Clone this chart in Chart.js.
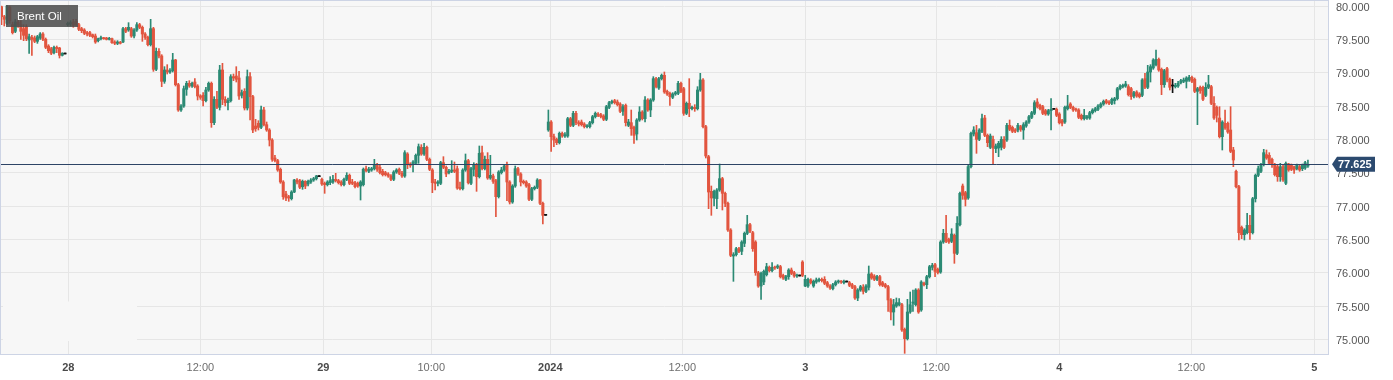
<!DOCTYPE html>
<html><head><meta charset="utf-8">
<script src="https://cdn.jsdelivr.net/npm/chart.js@4.4.1/dist/chart.umd.min.js"></script>
<style>html,body{margin:0;padding:0;background:#fff;}#wrap{width:1393px;height:380px;position:relative;}</style>
</head><body><div id="wrap"><canvas id="c" width="1393" height="380"></canvas></div>
<script>
// 15-minute candles, [open, high, low, close], one array per trading session
const dec27 = [
[79.99,80.00,79.72,79.84],[79.84,79.86,79.70,79.80],[79.74,80.01,79.72,80.00],[79.98,80.00,79.74,79.78],
[79.72,79.76,79.58,79.60],[79.62,79.80,79.60,79.76],[79.76,79.82,79.68,79.72],[79.72,79.78,79.50,79.62],
[79.66,79.72,79.48,79.56],[79.69,79.72,79.48,79.51],[79.49,79.58,79.29,79.54],[79.53,79.56,79.26,79.50],
[79.52,79.55,79.45,79.47],[79.47,79.56,79.44,79.54],[79.52,79.60,79.50,79.58],[79.58,79.60,79.48,79.50],
[79.50,79.52,79.36,79.38],[79.40,79.42,79.30,79.33],[79.36,79.38,79.27,79.29],[79.30,79.40,79.28,79.38],
[79.38,79.40,79.30,79.36],[79.37,79.38,79.22,79.26],[79.26,79.30,79.25,79.29],[79.28,79.28,79.28,79.28]];
const dec28 = [
[79.72,79.76,79.70,79.74],[79.73,79.78,79.70,79.75],[79.76,79.80,79.68,79.71],[79.77,79.80,79.70,79.72],
[79.72,79.74,79.63,79.65],[79.66,79.68,79.60,79.63],[79.64,79.66,79.57,79.59],[79.60,79.62,79.55,79.58],
[79.60,79.62,79.54,79.56],[79.57,79.58,79.52,79.54],[79.55,79.58,79.44,79.46],[79.48,79.52,79.46,79.51],
[79.51,79.55,79.49,79.52],[79.52,79.53,79.50,79.51],[79.52,79.53,79.49,79.50],[79.50,79.53,79.49,79.51],
[79.51,79.52,79.44,79.45],[79.46,79.48,79.42,79.44],[79.44,79.48,79.42,79.46],[79.45,79.47,79.43,79.44],
[79.46,79.68,79.45,79.66],[79.66,79.68,79.60,79.62],
[79.64,79.75,79.62,79.68],[79.66,79.68,79.53,79.55],[79.55,79.66,79.52,79.64],[79.64,79.75,79.62,79.72],
[79.72,79.74,79.66,79.68],[79.68,79.70,79.47,79.58],[79.58,79.60,79.50,79.53],[79.53,79.55,79.40,79.42],
[79.42,79.80,79.40,79.66],[79.66,79.68,79.02,79.05],[79.05,79.37,79.03,79.32],[79.32,79.36,79.22,79.25],
[79.25,79.27,78.79,78.87],[78.87,79.09,78.84,79.04],[79.04,79.12,78.98,79.01],[79.01,79.06,78.99,79.03],
[79.03,79.29,79.01,79.19],[79.19,79.20,78.80,78.82],[78.82,78.84,78.42,78.44],[78.44,78.52,78.42,78.50],
[78.50,78.80,78.48,78.76],[78.75,78.87,78.66,78.84],[78.84,78.88,78.78,78.80],[78.80,78.86,78.78,78.84],
[78.86,78.91,78.77,78.79],[78.80,78.82,78.59,78.65],[78.65,78.67,78.60,78.63],[78.66,78.70,78.50,78.58],
[78.58,78.78,78.56,78.74],[78.74,78.86,78.72,78.84],[78.84,78.86,78.18,78.25],[78.25,78.64,78.22,78.60],
[78.60,78.72,78.46,78.48],[78.48,79.11,78.44,79.04],[79.04,79.14,78.52,78.60],[78.60,78.64,78.50,78.55],
[78.55,78.62,78.44,78.58],[78.58,78.97,78.56,78.94],[78.94,78.98,78.88,78.92],[78.95,79.09,78.86,78.90],
[78.92,79.02,78.60,78.65],[78.66,78.74,78.62,78.70],[78.72,78.76,78.44,78.47],[78.47,79.04,78.44,78.94],
[78.94,79.00,78.29,78.64],[78.64,78.66,78.10,78.14],
[78.20,78.30,78.12,78.16],[78.24,78.28,78.14,78.18],[78.18,78.50,78.16,78.44],[78.44,78.48,78.20,78.22],
[78.22,78.26,78.12,78.14],[78.14,78.16,77.90,77.99],[77.99,78.01,77.67,77.70],[77.72,77.76,77.66,77.68],
[77.68,77.70,77.52,77.54],[77.55,77.57,77.34,77.36],[77.36,77.38,77.10,77.14],[77.18,77.22,77.08,77.12],
[77.14,77.16,77.07,77.12],[77.11,77.23,77.09,77.21],[77.21,77.40,77.20,77.39],[77.39,77.41,77.33,77.36],
[77.38,77.40,77.26,77.28],[77.29,77.39,77.25,77.37],[77.37,77.38,77.26,77.30],[77.33,77.39,77.30,77.37],
[77.36,77.41,77.34,77.39],[77.39,77.43,77.37,77.41],[77.41,77.46,77.39,77.45],[77.44,77.44,77.44,77.44]];
const dec29 = [
[77.40,77.42,77.31,77.33],[77.34,77.36,77.19,77.32],[77.32,77.38,77.30,77.36],[77.35,77.44,77.32,77.38],
[77.36,77.46,77.34,77.40],[77.40,77.49,77.36,77.38],[77.38,77.40,77.33,77.35],[77.36,77.38,77.30,77.32],
[77.32,77.42,77.30,77.40],[77.40,77.50,77.38,77.46],[77.46,77.48,77.32,77.34],[77.36,77.40,77.32,77.34],
[77.35,77.37,77.27,77.29],[77.34,77.36,77.28,77.30],[77.30,77.38,77.09,77.36],[77.32,77.57,77.30,77.55],
[77.56,77.60,77.51,77.53],[77.52,77.58,77.50,77.55],[77.54,77.58,77.52,77.56],[77.56,77.70,77.54,77.62],
[77.62,77.64,77.52,77.55],[77.58,77.62,77.48,77.50],
[77.52,77.55,77.45,77.47],[77.50,77.52,77.45,77.47],[77.48,77.50,77.43,77.45],[77.45,77.47,77.38,77.40],
[77.40,77.53,77.38,77.51],[77.51,77.56,77.49,77.54],[77.55,77.57,77.47,77.49],[77.49,77.52,77.43,77.45],
[77.45,77.83,77.43,77.80],[77.78,77.80,77.56,77.62],[77.63,77.65,77.58,77.61],[77.62,77.68,77.51,77.66],
[77.64,77.78,77.62,77.76],[77.76,77.93,77.64,77.89],[77.88,77.92,77.76,77.78],[77.78,77.94,77.76,77.88],
[77.88,77.90,77.68,77.70],[77.70,77.72,77.53,77.55],[77.54,77.56,77.20,77.35],[77.36,77.40,77.24,77.34],
[77.34,77.38,77.30,77.36],[77.34,77.67,77.32,77.65],[77.65,77.74,77.56,77.58],[77.58,77.60,77.44,77.48],
[77.50,77.55,77.48,77.52],[77.52,77.68,77.50,77.54],[77.54,77.66,77.50,77.52],[77.56,77.60,77.25,77.27],
[77.28,77.36,77.24,77.26],[77.26,77.56,77.24,77.54],[77.54,77.78,77.52,77.68],[77.68,77.70,77.33,77.35],
[77.34,77.58,77.32,77.56],[77.55,77.65,77.45,77.62],[77.62,77.64,77.22,77.44],[77.44,77.90,77.42,77.79],
[77.80,77.90,77.54,77.56],[77.56,77.75,77.54,77.70],[77.70,77.80,77.40,77.42],[77.42,77.76,77.40,77.46],
[77.45,77.48,77.34,77.37],[77.38,77.40,76.84,77.14],[77.14,77.53,77.12,77.51],[77.50,77.58,77.48,77.54],
[77.54,77.62,77.52,77.60],
[77.62,77.66,77.08,77.36],[77.36,77.38,77.03,77.06],[77.06,77.32,77.04,77.30],[77.30,77.60,77.28,77.56],
[77.56,77.58,77.46,77.48],[77.48,77.50,77.30,77.36],[77.37,77.39,77.33,77.35],[77.36,77.38,77.28,77.30],
[77.32,77.34,77.08,77.10],[77.10,77.28,77.08,77.26],[77.26,77.30,77.24,77.28],[77.28,77.41,77.26,77.39],
[77.39,77.40,77.02,77.04],[77.04,77.06,76.73,76.86],[76.86,76.86,76.86,76.86]];
const jan2 = [
[78.14,78.44,78.12,78.26],[78.26,78.28,77.82,78.04],[78.04,78.08,77.89,77.99],[78.00,78.02,77.92,77.95],
[77.95,78.11,77.93,78.09],[78.09,78.11,78.03,78.05],[78.05,78.10,78.03,78.07],[78.05,78.33,78.03,78.31],
[78.31,78.33,78.19,78.21],[78.21,78.42,78.19,78.39],[78.39,78.42,78.22,78.25],[78.25,78.28,78.20,78.23],
[78.26,78.29,78.20,78.22],[78.23,78.25,78.17,78.19],[78.19,78.22,78.17,78.20],[78.19,78.27,78.17,78.25],
[78.25,78.36,78.23,78.34],[78.34,78.41,78.32,78.39],[78.38,78.40,78.34,78.36],[78.37,78.39,78.32,78.34],
[78.35,78.37,78.28,78.30],[78.30,78.51,78.28,78.49],[78.48,78.57,78.46,78.55],[78.55,78.59,78.53,78.57],
[78.58,78.60,78.53,78.55],[78.56,78.59,78.50,78.52],[78.53,78.55,78.40,78.42],[78.42,78.52,78.36,78.49],
[78.51,78.53,78.20,78.25],[78.21,78.30,78.19,78.26],[78.25,78.44,78.06,78.16],[78.18,78.20,77.94,78.06],
[78.08,78.31,77.99,78.29],[78.29,78.49,78.27,78.41],[78.41,78.43,78.29,78.31],[78.31,78.64,78.26,78.59],
[78.59,78.61,78.42,78.44],[78.44,78.61,78.34,78.59],[78.59,78.94,78.57,78.91],[78.91,78.93,78.77,78.79],
[78.77,78.93,78.75,78.91],[78.91,78.98,78.89,78.96],[78.96,79.01,78.69,78.71],[78.72,78.74,78.66,78.68],
[78.69,78.71,78.51,78.64],[78.63,78.70,78.61,78.68],[78.68,78.72,78.66,78.70],[78.69,78.87,78.67,78.84],
[78.84,78.86,78.70,78.72],[78.76,78.78,78.36,78.39],[78.39,78.56,78.37,78.54],[78.54,78.91,78.34,78.46],
[78.46,78.50,78.44,78.48],[78.48,78.52,78.42,78.46],[78.46,78.79,78.44,78.74],[78.74,78.99,78.72,78.89],
[78.89,78.91,78.17,78.19],[78.19,78.21,77.72,77.75],[77.74,77.76,76.96,77.21],[77.22,77.30,76.86,77.12],
[77.12,77.24,77.00,77.22],[77.11,77.26,76.96,77.24],[77.24,77.63,77.22,77.41],[77.41,77.43,76.94,77.19],
[77.19,77.21,76.99,77.04],[77.04,77.06,76.62,76.64],[76.64,76.66,76.24,76.26],[76.25,76.30,75.87,76.27],
[76.27,76.38,76.25,76.36],[76.36,76.38,76.30,76.32],[76.32,76.48,76.27,76.46],[76.44,76.61,76.39,76.59],
[76.59,76.86,76.57,76.72],[76.72,76.74,76.60,76.62],[76.60,76.62,76.32,76.36],[76.46,76.48,75.96,76.00],
[76.00,76.02,75.78,75.80],[75.80,76.01,75.60,75.99],[75.86,76.04,75.82,76.02],[75.97,76.14,75.95,76.09],
[76.08,76.10,76.01,76.03],[76.03,76.15,76.01,76.08],[76.08,76.10,76.05,76.07],[76.08,76.12,76.06,76.10],
[76.09,76.11,75.92,75.94],[75.96,75.98,75.90,75.92],[75.90,75.96,75.88,75.94],[75.94,76.06,75.90,76.04],
[76.04,76.07,75.97,75.99],[76.00,76.02,75.93,75.95],[75.95,75.98,75.93,75.96],[75.95,75.95,75.95,75.95]];
const jan3 = [
[76.16,76.18,75.94,75.96],[75.80,75.96,75.79,75.90],[75.80,75.92,75.78,75.90],[75.89,75.91,75.83,75.85],
[75.80,75.89,75.78,75.87],[75.86,75.92,75.84,75.89],[75.88,75.92,75.86,75.90],[75.90,75.92,75.86,75.88],
[75.90,75.94,75.82,75.84],[75.85,75.87,75.78,75.80],[75.80,75.82,75.75,75.77],[75.76,75.84,75.74,75.82],
[75.82,75.88,75.80,75.86],[75.86,75.89,75.84,75.87],[75.87,75.88,75.84,75.86],[75.85,75.89,75.83,75.87],
[75.86,75.86,75.86,75.86],[75.85,75.87,75.79,75.81],[75.82,75.84,75.76,75.78],[75.79,75.81,75.60,75.62],
[75.62,75.76,75.58,75.74],[75.74,75.81,75.72,75.79],[75.78,75.82,75.68,75.72],[75.72,75.82,75.70,75.80],
[75.78,76.10,75.74,75.98],[75.98,76.00,75.90,75.92],[75.95,75.97,75.88,75.90],[75.90,75.96,75.88,75.94],
[75.94,75.96,75.80,75.82],[75.85,75.87,75.79,75.81],[75.82,75.84,75.77,75.79],[75.79,75.81,75.42,75.59],
[75.59,75.61,75.29,75.41],[75.41,75.60,75.21,75.52],[75.50,75.62,75.48,75.55],[75.52,75.61,75.50,75.55],
[75.52,75.54,75.12,75.14],[75.15,75.17,74.79,75.01],[75.01,75.60,74.99,75.41],[75.41,75.71,75.39,75.52],
[75.54,75.74,75.42,75.56],[75.52,75.76,75.50,75.74],[75.74,75.76,75.39,75.41],[75.44,75.88,75.42,75.86],
[75.84,75.86,75.80,75.82],[75.82,75.96,75.76,75.94],[75.94,76.11,75.92,76.09],[76.08,76.14,76.04,76.11],
[76.12,76.14,75.94,76.02],[76.05,76.07,75.98,76.00],[76.01,76.48,75.99,76.46],[76.46,76.65,76.44,76.59],
[76.59,76.86,76.45,76.47],[76.50,76.52,76.44,76.46],[76.47,76.66,76.45,76.58],[76.56,76.58,76.14,76.29],
[76.29,76.84,76.27,76.74],[76.72,77.21,76.70,77.19],[77.30,77.33,77.10,77.16],[77.20,77.22,77.00,77.10],
[77.12,77.61,77.10,77.59],[77.59,78.11,77.57,78.09],[78.08,78.19,78.05,78.14],[78.10,78.21,77.79,78.00],
[78.00,78.16,77.98,78.14],[78.12,78.38,78.10,78.31],[78.32,78.36,78.04,78.06],[78.06,78.08,77.89,77.95],
[77.88,78.08,77.86,78.05],[78.00,78.05,77.62,77.87],[77.86,77.93,77.80,77.90],[77.87,77.97,77.74,77.94],
[77.88,78.04,77.84,78.00],[78.00,78.04,77.86,77.88],[77.99,78.24,77.97,78.21],[78.21,78.29,78.13,78.15],
[78.18,78.20,78.10,78.12],[78.14,78.16,78.10,78.12],[78.14,78.24,78.11,78.21],[78.19,78.21,78.12,78.15],
[78.14,78.25,78.00,78.22],[78.20,78.28,78.18,78.26],[78.26,78.36,78.24,78.34],[78.33,78.42,78.31,78.40],
[78.39,78.58,78.37,78.55],[78.56,78.61,78.47,78.49],[78.51,78.53,78.44,78.46],[78.49,78.51,78.37,78.39],
[78.43,78.45,78.36,78.38],[78.38,78.45,78.36,78.43],[78.43,78.61,78.14,78.45],[78.45,78.45,78.45,78.45]];
const jan4 = [
[78.45,78.47,78.34,78.36],[78.38,78.40,78.23,78.25],[78.28,78.30,78.20,78.24],[78.26,78.50,78.24,78.48],
[78.46,78.66,78.44,78.50],[78.53,78.55,78.46,78.48],[78.48,78.50,78.42,78.44],[78.45,78.47,78.42,78.44],
[78.44,78.46,78.31,78.33],[78.36,78.38,78.29,78.31],[78.31,78.45,78.29,78.36],[78.32,78.36,78.30,78.34],
[78.32,78.42,78.30,78.40],[78.40,78.46,78.38,78.44],[78.43,78.48,78.41,78.46],[78.45,78.52,78.43,78.50],
[78.49,78.55,78.47,78.53],[78.53,78.59,78.51,78.57],[78.58,78.60,78.53,78.55],[78.56,78.58,78.52,78.54],
[78.54,78.62,78.52,78.60],[78.58,78.63,78.53,78.61],[78.61,78.78,78.59,78.76],[78.76,78.82,78.74,78.80],
[78.79,78.83,78.77,78.81],[78.80,78.87,78.78,78.83],[78.79,78.82,78.65,78.67],[78.76,78.78,78.60,78.64],
[78.65,78.72,78.62,78.70],[78.71,78.73,78.63,78.65],[78.68,78.70,78.62,78.64],[78.66,78.91,78.64,78.89],
[78.91,78.99,78.76,78.78],[78.78,79.11,78.76,79.01],[79.01,79.12,78.86,79.09],[79.07,79.21,79.05,79.19],
[79.12,79.34,79.10,79.20],[79.20,79.22,79.02,79.04],[79.05,79.07,78.67,78.82],[78.82,79.05,78.78,79.03],
[79.06,79.08,78.86,78.89],[78.90,78.92,78.74,78.78],[78.80,78.90,78.70,78.80],[78.79,78.84,78.77,78.81],
[78.80,78.87,78.78,78.84],[78.85,78.90,78.83,78.88],[78.87,78.92,78.85,78.89],[78.87,78.94,78.77,78.92],
[78.89,78.96,78.87,78.93],[78.93,78.95,78.85,78.87],[78.90,78.92,78.70,78.72],[78.72,78.78,78.22,78.76],
[78.78,78.80,78.69,78.73],[78.78,78.80,78.58,78.60],[78.66,78.85,78.64,78.78],[78.78,78.96,78.76,78.82],
[78.79,78.81,78.52,78.54],[78.54,78.64,78.30,78.32],[78.48,78.50,78.26,78.36],[78.32,78.49,78.02,78.04],
[78.04,78.28,77.84,78.26],[78.24,78.44,78.15,78.17],[78.24,78.26,78.09,78.11],[78.14,78.49,77.80,77.82],
[77.84,77.88,77.59,77.69],[77.52,77.54,77.27,77.29],[77.29,77.31,76.49,76.60],[76.68,76.70,76.51,76.57],
[76.57,76.66,76.49,76.64],[76.60,76.89,76.58,76.71],[76.71,76.86,76.50,76.60],[76.60,77.13,76.58,77.11],
[77.11,77.48,77.06,77.46],[77.46,77.60,77.44,77.56],[77.52,77.64,77.50,77.62],[77.62,77.85,77.60,77.80],
[77.77,77.84,77.70,77.72],[77.76,77.80,77.62,77.64],[77.70,77.72,77.58,77.62],[77.62,77.64,77.45,77.47],
[77.59,77.61,77.37,77.44],[77.44,77.64,77.37,77.59],[77.59,77.61,77.37,77.39],[77.34,77.66,77.32,77.64],
[77.63,77.64,77.52,77.54],[77.61,77.63,77.53,77.55],[77.59,77.60,77.49,77.54],[77.56,77.63,77.54,77.61],
[77.59,77.61,77.52,77.54],[77.56,77.63,77.53,77.61],[77.57,77.67,77.55,77.65],[77.60,77.69,77.58,77.625]];

const tickLabels = ['28','12:00','29','10:00','2024','12:00','3','12:00','4','12:00','5'];
const tickSlots  = [24.2, 72, 116.5, 155.6, 198.7, 246.5, 291, 338.4, 383, 430.8, 475.3]; // bar slot of each time label
const isDayLabel = [true,false,true,false,true,false,true,false,true,false,true];
const priceTicks = [75,75.5,76,76.5,77,77.5,78,78.5,79,79.5,80];
const lastPrice = 77.625;
const instrument = 'Brent Oil';

const candles = [].concat(dec27, dec28, dec29, jan2, jan3, jan4);
const UP = '#2b8a74', DOWN = '#e2553f', FLAT = '#111111';
const colorOf = c => c[3] > c[0] ? UP : (c[3] < c[0] ? DOWN : FLAT);
const colors = candles.map(colorOf);
const FONT = "'Liberation Sans', Arial, Helvetica, sans-serif";

const chromePlugin = {
  id: 'chrome',
  beforeDraw(chart) {
    const {ctx, chartArea: a} = chart;
    ctx.save();
    ctx.fillStyle = '#ffffff';
    ctx.fillRect(0, 0, chart.width, chart.height);
    ctx.fillStyle = '#f7f7f7';
    ctx.fillRect(a.left, a.top, a.right - a.left, a.bottom - a.top);
    ctx.restore();
  },
  beforeDatasetsDraw(chart) {
    const {ctx} = chart;
    ctx.save();
    ctx.fillStyle = '#f7f7f7';
    ctx.fillRect(3, 301.5, 134, 39.5);
    ctx.restore();
  },
  afterDatasetsDraw(chart) {
    const {ctx, chartArea: a, scales} = chart;
    const y = Math.round(scales.y.getPixelForValue(lastPrice)) + 0.5;
    ctx.save();
    ctx.strokeStyle = '#2d4466';
    ctx.lineWidth = 1;
    ctx.beginPath(); ctx.moveTo(a.left, y); ctx.lineTo(a.right, y); ctx.stroke();
    ctx.strokeStyle = '#cdd4e5';
    ctx.strokeRect(a.left - 0.5, a.top - 0.5, a.right - a.left + 1, a.bottom - a.top + 1);
    ctx.fillStyle = 'rgba(78,78,78,0.88)';
    ctx.fillRect(6, 5, 72, 22);
    ctx.fillStyle = '#ffffff';
    ctx.font = '11.5px ' + FONT;
    ctx.textBaseline = 'middle';
    ctx.fillText(instrument, 17, 16.5);
    ctx.restore();
  },
  afterDraw(chart) {
    const {ctx, chartArea: a, scales} = chart;
    const y = scales.y.getPixelForValue(lastPrice);
    const x0 = a.right + 4, x1 = x0 + 5, x2 = 1375, h = 7.5;
    ctx.save();
    ctx.fillStyle = '#2c4a6f';
    ctx.beginPath();
    ctx.moveTo(x0, y); ctx.lineTo(x1, y - h); ctx.lineTo(x2, y - h);
    ctx.lineTo(x2, y + h); ctx.lineTo(x1, y + h); ctx.closePath(); ctx.fill();
    ctx.fillStyle = '#ffffff';
    ctx.font = 'bold 11px ' + FONT;
    ctx.textBaseline = 'middle';
    ctx.fillText(lastPrice.toFixed(3), x1 + 1, y + 0.5);
    ctx.restore();
  }
};

const noPad = s => { s.paddingTop = 0; s.paddingBottom = 0; s.paddingLeft = 0; s.paddingRight = 0; };

new Chart(document.getElementById('c'), {
  type: 'bar',
  data: {
    datasets: [
      { label: 'range', data: candles.map((c, i) => ({x: i, y: [c[2], c[1]]})),
        backgroundColor: colors, barThickness: 1, grouped: false, minBarLength: 1, borderWidth: 0, order: 2 },
      { label: 'body', data: candles.map((c, i) => ({x: i, y: [c[0], c[3]]})),
        backgroundColor: colors, barThickness: 2.4, grouped: false, minBarLength: 1, borderWidth: 0, order: 1 }
    ]
  },
  options: {
    responsive: false, animation: false, devicePixelRatio: 1,
    layout: { padding: { top: 1, left: 1, right: 0, bottom: 0 } },
    plugins: { legend: { display: false }, tooltip: { enabled: false } },
    scales: {
      x: {
        type: 'linear', min: -0.181, max: 480.27, offset: false,
        grid: { color: '#e6e6e6', drawTicks: false, offset: false },
        border: { display: false },
        afterBuildTicks: s => { s.ticks = tickSlots.map(v => ({ value: v })); },
        afterFit: s => { s.height = 26; noPad(s); },
        ticks: {
          autoSkip: false, maxRotation: 0, padding: 7,
          callback: (v, i) => tickLabels[i],
          color: ctx => isDayLabel[ctx.index] ? '#4a4a4a' : '#6e6e6e',
          font: ctx => ({ family: FONT, size: 11, weight: isDayLabel[ctx.index] ? 'bold' : 'normal' })
        }
      },
      y: {
        position: 'right', min: 74.78, max: 80.075,
        grid: { color: '#e6e6e6', drawTicks: false },
        border: { display: false },
        afterBuildTicks: s => { s.ticks = priceTicks.map(v => ({ value: v })); },
        afterFit: s => { s.width = 65; noPad(s); },
        ticks: {
          autoSkip: false, padding: 8, color: '#555555', labelOffset: 1.5,
          font: { family: FONT, size: 11 },
          callback: v => Number(v).toFixed(3)
        }
      }
    }
  },
  plugins: [chromePlugin]
});
</script></body></html>
